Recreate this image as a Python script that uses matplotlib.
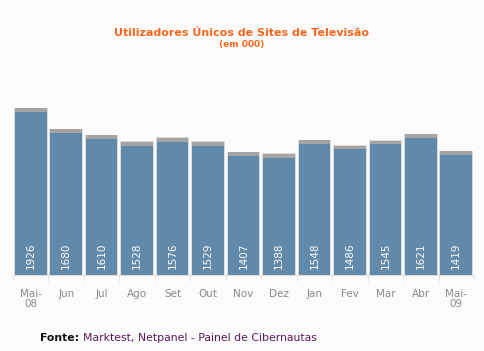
import matplotlib.pyplot as plt
import numpy as np

meses = ['Mai-\n08', 'Jun', 'Jul', 'Ago', 'Set', 'Out', 'Nov', 'Dez',
         'Jan', 'Fev', 'Mar', 'Abr', 'Mai-\n09']
utilizadores = [1926, 1680, 1610, 1528, 1576, 1529, 1407, 1388,
                1548, 1486, 1545, 1621, 1419]

fig = plt.figure(figsize=(4.84, 3.51), dpi=100)
fig.patch.set_facecolor('#fbfbfb')

# axes placed in pixel terms of the original
ax = fig.add_axes([13 / 484, 76 / 351, 461 / 484, 185 / 351])
ax.set_facecolor('#fbfbfb')

x = np.arange(len(meses))

# grey halo / shadow behind each bar
ax.bar(x, [v + 50 for v in utilizadores], width=0.95, color='#dadada', zorder=1)
ax.bar(x, [v + 42 for v in utilizadores], width=0.89, color='#a4a4a4', zorder=2)
ax.bar(x, utilizadores, width=0.89, color='#6189aa', zorder=3)

for xi, v in zip(x, utilizadores):
    ax.text(xi, 75, str(v), rotation=90, color='white', fontsize=7.5,
            ha='center', va='bottom', zorder=4)

ax.set_xlim(-0.5, len(meses) - 0.5)
ax.set_ylim(0, 2186)

for s in ['top', 'right', 'left']:
    ax.spines[s].set_visible(False)
ax.spines['bottom'].set_color('#dddddd')
ax.set_yticks([])

ax.set_xticks(x)
ax.set_xticklabels(meses, fontsize=7.5, color='#8a8a8a', linespacing=1.0)
ax.tick_params(axis='x', which='major', length=0, pad=10)
ax.set_xticks(np.arange(-0.5, len(meses)), minor=True)
ax.tick_params(axis='x', which='minor', length=4, color='#dddddd')

fig.text(0.5, 1 - 33 / 351, 'Utilizadores Únicos de Sites de Televisão',
         ha='center', va='center', color='#f7671e', fontsize=8, fontweight='bold')
fig.text(0.5, 1 - 44 / 351, '(em 000)', ha='center', va='center',
         color='#f7671e', fontsize=6.5, fontweight='bold')

fig.text(40 / 484, 1 - 338 / 351, 'Fonte:', ha='left', va='center',
         color='#111111', fontsize=7.8, fontweight='bold')
fig.text(83 / 484, 1 - 338 / 351, 'Marktest, Netpanel - Painel de Cibernautas',
         ha='left', va='center', color='#5a1a5a', fontsize=7.8)

fig.savefig('out.png', dpi=100, facecolor=fig.get_facecolor())
